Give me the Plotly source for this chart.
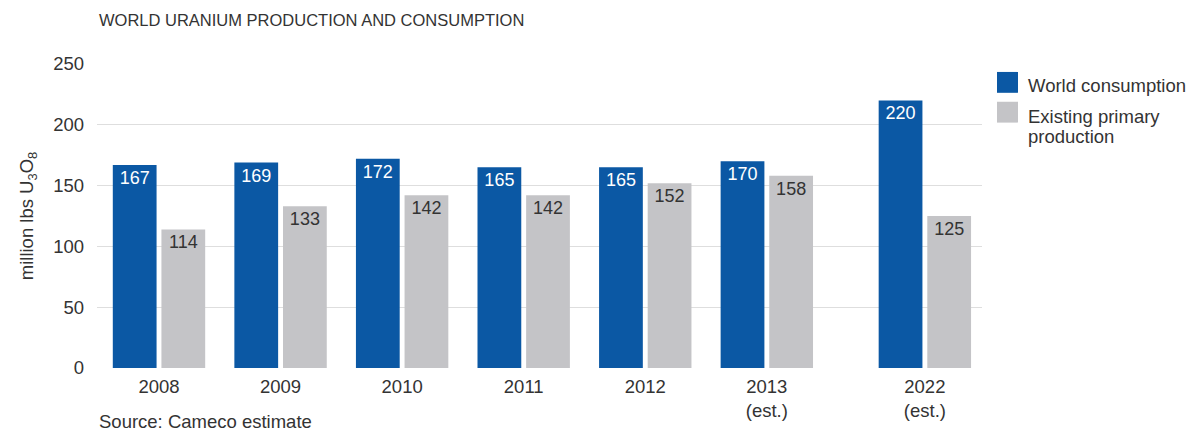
import plotly.graph_objects as go

# Years shown on the axis; the last one is set apart from the historical run
years = ["2008", "2009", "2010", "2011", "2012", "2013<br>(est.)", "2022<br>(est.)"]
consumption = [167, 169, 172, 165, 165, 170, 220]
production = [114, 133, 142, 142, 152, 158, 125]
y_ticks = [0, 50, 100, 150, 200, 250]

BLUE = "#0b58a4"
GREY = "#c4c4c7"
TEXT = "#333333"
FONT = "Liberation Sans, Arial, sans-serif"
FS = 18.5

# Category positions: evenly spaced, with a wider break before the 2022 estimate
positions = [float(i) for i in range(len(years))]
positions[-1] += 0.30

BAR_W = 0.36

fig = go.Figure()
fig.add_trace(go.Bar(
    x=positions, y=consumption, width=BAR_W, offset=-0.38,
    marker=dict(color=BLUE, line=dict(width=0)),
    text=[str(v) for v in consumption], textposition="inside",
    insidetextanchor="end", textangle=0,
    textfont=dict(color="white", size=18, family=FONT),
    name="World consumption", showlegend=False, hoverinfo="skip",
))
fig.add_trace(go.Bar(
    x=positions, y=production, width=BAR_W, offset=0.02,
    marker=dict(color=GREY, line=dict(width=0)),
    text=[str(v) for v in production], textposition="inside",
    insidetextanchor="end", textangle=0,
    textfont=dict(color=TEXT, size=18, family=FONT),
    name="Existing primary production", showlegend=False, hoverinfo="skip",
))

fig.update_layout(
    width=1196, height=433,
    margin=dict(l=97, r=214, t=64, b=63),
    paper_bgcolor="white", plot_bgcolor="white",
    font=dict(family=FONT, color=TEXT, size=FS),
    barmode="overlay",
    xaxis=dict(
        range=[-0.51, 6.77],
        tickmode="array", tickvals=positions, ticktext=years,
        showgrid=False, zeroline=False, showline=False,
        ticks="", ticklabelstandoff=5,
        tickfont=dict(size=FS, color=TEXT, family=FONT),
        fixedrange=True,
    ),
    yaxis=dict(
        range=[0, 250],
        tickmode="array", tickvals=y_ticks,
        showgrid=True, gridcolor="#dedede", gridwidth=1,
        zeroline=False, showline=False, ticks="",
        ticklabelstandoff=12,
        tickfont=dict(size=FS, color=TEXT, family=FONT),
        title=dict(text="million lbs U<sub>3</sub>O<sub>8</sub>",
                   font=dict(size=FS, color=TEXT, family=FONT), standoff=14),
        fixedrange=True,
    ),
)

# Chart title and source note
fig.add_annotation(
    text="WORLD URANIUM PRODUCTION AND CONSUMPTION",
    xref="paper", yref="paper", x=0, y=1, yshift=44,
    xanchor="left", yanchor="middle", showarrow=False,
    font=dict(size=16.5, color=TEXT, family=FONT),
)
fig.add_annotation(
    text="Source: Cameco estimate",
    xref="paper", yref="paper", x=0, y=0, yshift=-53,
    xanchor="left", yanchor="middle", showarrow=False,
    font=dict(size=FS, color=TEXT, family=FONT),
)

# Legend drawn as swatches with labels to the right of the plot
def px_x(px):
    return (px - 97) / 885


def px_y(px):
    return (370 - px) / 306


legend_swatches = [(BLUE, 72, 93), (GREY, 102, 123)]
for color, top, bottom in legend_swatches:
    fig.add_shape(
        type="rect", xref="paper", yref="paper",
        x0=px_x(997), x1=px_x(1018), y0=px_y(top), y1=px_y(bottom),
        fillcolor=color, line=dict(width=0),
    )

legend_lines = [("World consumption", 86), ("Existing primary", 117), ("production", 137)]
for label, cy in legend_lines:
    fig.add_annotation(
        text=label, xref="paper", yref="paper",
        x=px_x(1026), y=px_y(cy),
        xanchor="left", yanchor="middle", showarrow=False,
        font=dict(size=FS, color=TEXT, family=FONT),
    )

fig.write_html("out.html")
